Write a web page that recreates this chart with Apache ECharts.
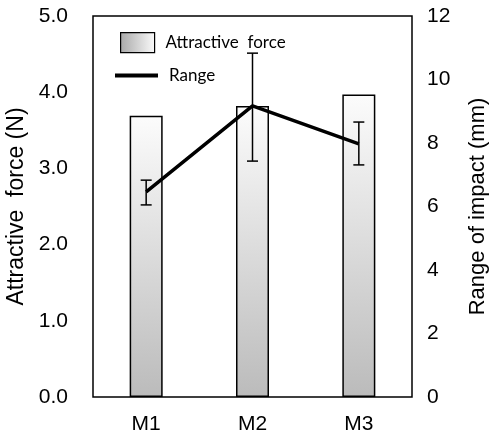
<!DOCTYPE html>
<html>
<head>
<meta charset="utf-8">
<script src="https://cdn.jsdelivr.net/npm/echarts@6/dist/echarts.min.js"></script>
<style>html,body{margin:0;padding:0;background:#fff}#c{width:491px;height:438px}</style>
</head>
<body>
<div id="c"></div>
<script>
var categories = ['M1', 'M2', 'M3'];
var forceValues = [3.69, 3.82, 3.97];
var rangeValues = [6.46, 9.17, 7.97];
var rangeLow = [6.05, 7.43, 7.31];
var rangeHigh = [6.83, 10.83, 8.66];
var leftTicks = [0, 1, 2, 3, 4, 5];
var rightTicks = [0, 2, 4, 6, 8, 10, 12];

var chart = echarts.init(document.getElementById('c'));
var axisFont = 'Liberation Sans, Arial, sans-serif';
var errData = categories.map(function (c, i) { return [i, rangeLow[i], rangeHigh[i]]; });

chart.setOption({
  animation: false,
  grid: { left: 93, right: 79, top: 16, bottom: 41, show: true, borderColor: '#000', borderWidth: 1.5,
    containLabel: false, outerBoundsMode: 'none' },
  legend: [
    {
      data: [{ name: 'Attractive  force', icon: 'rect',
        itemStyle: { color: new echarts.graphic.LinearGradient(0, 0, 1, 0, [{ offset: 0, color: '#a8a8a8' }, { offset: 1, color: '#fbfbfb' }]), borderColor: '#000', borderWidth: 1.2 } }],
      left: 115, top: 27, itemWidth: 34, itemHeight: 20,
      textStyle: { fontFamily: 'Lato, sans-serif', fontSize: 17, color: '#000', padding: [0, 0, 0, 6] }
    },
    {
      data: [{ name: 'Range', icon: 'rect', itemStyle: { color: '#000', borderWidth: 0 } }],
      left: 110, top: 62, itemWidth: 43, itemHeight: 4,
      textStyle: { fontFamily: 'Lato, sans-serif', fontSize: 17, color: '#000', padding: [0, 0, 0, 6] }
    }
  ],
  xAxis: {
    type: 'category', data: categories,
    axisLine: { show: false }, axisTick: { show: false },
    axisLabel: { fontFamily: axisFont, fontSize: 21, color: '#000', margin: 17 }
  },
  yAxis: [
    {
      type: 'value', min: 0, max: 5, interval: 1, position: 'left',
      name: 'Attractive  force (N)', nameLocation: 'middle', nameRotate: 90, nameGap: 53,
      nameTextStyle: { fontFamily: axisFont, fontSize: 23, color: '#000' },
      axisLine: { show: false }, axisTick: { show: false }, splitLine: { show: false },
      axisLabel: { fontFamily: axisFont, fontSize: 21, color: '#000', margin: 25,
        formatter: function (v) { return leftTicks.indexOf(v) >= 0 ? v.toFixed(1) : ''; } }
    },
    {
      type: 'value', min: 0, max: 12, interval: 2, position: 'right',
      name: 'Range of impact (mm)', nameLocation: 'middle', nameRotate: 90, nameGap: 55,
      nameTextStyle: { fontFamily: axisFont, fontSize: 22, color: '#000' },
      axisLine: { show: false }, axisTick: { show: false }, splitLine: { show: false },
      axisLabel: { fontFamily: axisFont, fontSize: 21, color: '#000', margin: 15,
        formatter: function (v) { return rightTicks.indexOf(v) >= 0 ? String(v) : ''; } }
    }
  ],
  series: [
    {
      name: 'Attractive  force', type: 'bar', yAxisIndex: 0, data: forceValues, barWidth: 33,
      itemStyle: {
        color: new echarts.graphic.LinearGradient(0, 0, 0, 1, [{ offset: 0, color: '#fcfcfc' }, { offset: 1, color: '#bbbbbb' }]),
        borderColor: '#000', borderWidth: 1.5
      }
    },
    {
      name: 'Range', type: 'line', yAxisIndex: 1, data: rangeValues, symbol: 'none',
      lineStyle: { color: '#000', width: 3.5 }, itemStyle: { color: '#000' }, z: 5
    },
    {
      name: 'err', type: 'custom', yAxisIndex: 1, data: errData, z: 6,
      renderItem: function (params, api) {
        var x = api.value(0);
        var lo = api.coord([x, api.value(1)]);
        var hi = api.coord([x, api.value(2)]);
        var hw = 5.5;
        var st = { stroke: '#000', lineWidth: 1.5, fill: null };
        return { type: 'group', children: [
          { type: 'line', shape: { x1: lo[0], y1: lo[1], x2: hi[0], y2: hi[1] }, style: st },
          { type: 'line', shape: { x1: lo[0] - hw, y1: lo[1], x2: lo[0] + hw, y2: lo[1] }, style: st },
          { type: 'line', shape: { x1: hi[0] - hw, y1: hi[1], x2: hi[0] + hw, y2: hi[1] }, style: st }
        ] };
      }
    }
  ]
});
</script>
</body>
</html>
